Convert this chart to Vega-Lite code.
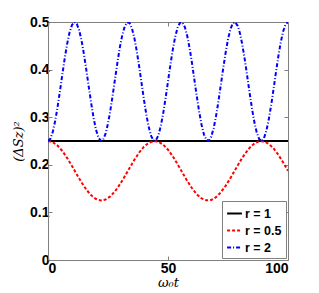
{
  "$schema": "https://vega.github.io/schema/vega-lite/v6.json",
  "width": 240,
  "height": 238,
  "autosize": {"type": "none"},
  "padding": {"left": 48, "top": 22, "right": 31, "bottom": 33},
  "background": "white",
  "config": {
    "view": {"stroke": "#808080", "strokeWidth": 1},
    "font": "Liberation Sans",
    "axis": {
      "grid": false,
      "domainColor": "#808080",
      "tickColor": "#808080",
      "tickSize": -4,
      "labelFont": "Liberation Sans",
      "labelFontWeight": "bold",
      "labelFontSize": 14,
      "labelColor": "black",
      "titleFont": "DejaVu Serif",
      "titleFontStyle": "italic",
      "titleFontWeight": "normal",
      "titleFontSize": 13,
      "titleColor": "black"
    }
  },
  "datasets": {
    "curves": [
      {"t": 0, "y": 0.25, "r": "r = 1"},
      {"t": 100, "y": 0.25, "r": "r = 1"},
      {"t": 0, "y": 0.25, "r": "r = 0.5"},
      {"t": 2, "y": 0.2475, "r": "r = 0.5"},
      {"t": 4, "y": 0.2403, "r": "r = 0.5"},
      {"t": 6, "y": 0.2289, "r": "r = 0.5"},
      {"t": 8, "y": 0.2141, "r": "r = 0.5"},
      {"t": 10, "y": 0.1973, "r": "r = 0.5"},
      {"t": 12, "y": 0.1797, "r": "r = 0.5"},
      {"t": 14, "y": 0.1627, "r": "r = 0.5"},
      {"t": 16, "y": 0.1477, "r": "r = 0.5"},
      {"t": 18, "y": 0.1358, "r": "r = 0.5"},
      {"t": 20, "y": 0.1281, "r": "r = 0.5"},
      {"t": 22, "y": 0.1250, "r": "r = 0.5"},
      {"t": 24, "y": 0.1270, "r": "r = 0.5"},
      {"t": 26, "y": 0.1337, "r": "r = 0.5"},
      {"t": 28, "y": 0.1448, "r": "r = 0.5"},
      {"t": 30, "y": 0.1592, "r": "r = 0.5"},
      {"t": 32, "y": 0.1759, "r": "r = 0.5"},
      {"t": 34, "y": 0.1934, "r": "r = 0.5"},
      {"t": 36, "y": 0.2105, "r": "r = 0.5"},
      {"t": 38, "y": 0.2259, "r": "r = 0.5"},
      {"t": 40, "y": 0.2381, "r": "r = 0.5"},
      {"t": 42, "y": 0.2463, "r": "r = 0.5"},
      {"t": 44, "y": 0.2499, "r": "r = 0.5"},
      {"t": 46, "y": 0.2485, "r": "r = 0.5"},
      {"t": 48, "y": 0.2423, "r": "r = 0.5"},
      {"t": 50, "y": 0.2317, "r": "r = 0.5"},
      {"t": 52, "y": 0.2176, "r": "r = 0.5"},
      {"t": 54, "y": 0.2011, "r": "r = 0.5"},
      {"t": 56, "y": 0.1836, "r": "r = 0.5"},
      {"t": 58, "y": 0.1663, "r": "r = 0.5"},
      {"t": 60, "y": 0.1507, "r": "r = 0.5"},
      {"t": 62, "y": 0.1381, "r": "r = 0.5"},
      {"t": 64, "y": 0.1294, "r": "r = 0.5"},
      {"t": 66, "y": 0.1253, "r": "r = 0.5"},
      {"t": 68, "y": 0.1261, "r": "r = 0.5"},
      {"t": 70, "y": 0.1319, "r": "r = 0.5"},
      {"t": 72, "y": 0.1420, "r": "r = 0.5"},
      {"t": 74, "y": 0.1558, "r": "r = 0.5"},
      {"t": 76, "y": 0.1720, "r": "r = 0.5"},
      {"t": 78, "y": 0.1896, "r": "r = 0.5"},
      {"t": 80, "y": 0.2069, "r": "r = 0.5"},
      {"t": 82, "y": 0.2227, "r": "r = 0.5"},
      {"t": 84, "y": 0.2357, "r": "r = 0.5"},
      {"t": 86, "y": 0.2449, "r": "r = 0.5"},
      {"t": 88, "y": 0.2495, "r": "r = 0.5"},
      {"t": 90, "y": 0.2492, "r": "r = 0.5"},
      {"t": 92, "y": 0.2440, "r": "r = 0.5"},
      {"t": 94, "y": 0.2343, "r": "r = 0.5"},
      {"t": 96, "y": 0.2209, "r": "r = 0.5"},
      {"t": 98, "y": 0.2049, "r": "r = 0.5"},
      {"t": 100, "y": 0.1874, "r": "r = 0.5"},
      {"t": 0, "y": 0.2500, "r": "r = 2"},
      {"t": 1, "y": 0.2550, "r": "r = 2"},
      {"t": 2, "y": 0.2695, "r": "r = 2"},
      {"t": 3, "y": 0.2923, "r": "r = 2"},
      {"t": 4, "y": 0.3218, "r": "r = 2"},
      {"t": 5, "y": 0.3554, "r": "r = 2"},
      {"t": 6, "y": 0.3907, "r": "r = 2"},
      {"t": 7, "y": 0.4247, "r": "r = 2"},
      {"t": 8, "y": 0.4547, "r": "r = 2"},
      {"t": 9, "y": 0.4784, "r": "r = 2"},
      {"t": 10, "y": 0.4939, "r": "r = 2"},
      {"t": 11, "y": 0.4999, "r": "r = 2"},
      {"t": 12, "y": 0.4961, "r": "r = 2"},
      {"t": 13, "y": 0.4826, "r": "r = 2"},
      {"t": 14, "y": 0.4605, "r": "r = 2"},
      {"t": 15, "y": 0.4317, "r": "r = 2"},
      {"t": 16, "y": 0.3983, "r": "r = 2"},
      {"t": 17, "y": 0.3632, "r": "r = 2"},
      {"t": 18, "y": 0.3290, "r": "r = 2"},
      {"t": 19, "y": 0.2983, "r": "r = 2"},
      {"t": 20, "y": 0.2738, "r": "r = 2"},
      {"t": 21, "y": 0.2574, "r": "r = 2"},
      {"t": 22, "y": 0.2502, "r": "r = 2"},
      {"t": 23, "y": 0.2530, "r": "r = 2"},
      {"t": 24, "y": 0.2655, "r": "r = 2"},
      {"t": 25, "y": 0.2867, "r": "r = 2"},
      {"t": 26, "y": 0.3149, "r": "r = 2"},
      {"t": 27, "y": 0.3478, "r": "r = 2"},
      {"t": 28, "y": 0.3829, "r": "r = 2"},
      {"t": 29, "y": 0.4174, "r": "r = 2"},
      {"t": 30, "y": 0.4486, "r": "r = 2"},
      {"t": 31, "y": 0.4738, "r": "r = 2"},
      {"t": 32, "y": 0.4913, "r": "r = 2"},
      {"t": 33, "y": 0.4995, "r": "r = 2"},
      {"t": 34, "y": 0.4978, "r": "r = 2"},
      {"t": 35, "y": 0.4863, "r": "r = 2"},
      {"t": 36, "y": 0.4660, "r": "r = 2"},
      {"t": 37, "y": 0.4385, "r": "r = 2"},
      {"t": 38, "y": 0.4060, "r": "r = 2"},
      {"t": 39, "y": 0.3709, "r": "r = 2"},
      {"t": 40, "y": 0.3362, "r": "r = 2"},
      {"t": 41, "y": 0.3046, "r": "r = 2"},
      {"t": 42, "y": 0.2786, "r": "r = 2"},
      {"t": 43, "y": 0.2602, "r": "r = 2"},
      {"t": 44, "y": 0.2510, "r": "r = 2"},
      {"t": 45, "y": 0.2516, "r": "r = 2"},
      {"t": 46, "y": 0.2620, "r": "r = 2"},
      {"t": 47, "y": 0.2814, "r": "r = 2"},
      {"t": 48, "y": 0.3082, "r": "r = 2"},
      {"t": 49, "y": 0.3403, "r": "r = 2"},
      {"t": 50, "y": 0.3752, "r": "r = 2"},
      {"t": 51, "y": 0.4101, "r": "r = 2"},
      {"t": 52, "y": 0.4421, "r": "r = 2"},
      {"t": 53, "y": 0.4689, "r": "r = 2"},
      {"t": 54, "y": 0.4882, "r": "r = 2"},
      {"t": 55, "y": 0.4985, "r": "r = 2"},
      {"t": 56, "y": 0.4990, "r": "r = 2"},
      {"t": 57, "y": 0.4896, "r": "r = 2"},
      {"t": 58, "y": 0.4712, "r": "r = 2"},
      {"t": 59, "y": 0.4451, "r": "r = 2"},
      {"t": 60, "y": 0.4135, "r": "r = 2"},
      {"t": 61, "y": 0.3787, "r": "r = 2"},
      {"t": 62, "y": 0.3437, "r": "r = 2"},
      {"t": 63, "y": 0.3112, "r": "r = 2"},
      {"t": 64, "y": 0.2837, "r": "r = 2"},
      {"t": 65, "y": 0.2635, "r": "r = 2"},
      {"t": 66, "y": 0.2522, "r": "r = 2"},
      {"t": 67, "y": 0.2506, "r": "r = 2"},
      {"t": 68, "y": 0.2589, "r": "r = 2"},
      {"t": 69, "y": 0.2764, "r": "r = 2"},
      {"t": 70, "y": 0.3017, "r": "r = 2"},
      {"t": 71, "y": 0.3329, "r": "r = 2"},
      {"t": 72, "y": 0.3674, "r": "r = 2"},
      {"t": 73, "y": 0.4025, "r": "r = 2"},
      {"t": 74, "y": 0.4354, "r": "r = 2"},
      {"t": 75, "y": 0.4636, "r": "r = 2"},
      {"t": 76, "y": 0.4847, "r": "r = 2"},
      {"t": 77, "y": 0.4971, "r": "r = 2"},
      {"t": 78, "y": 0.4997, "r": "r = 2"},
      {"t": 79, "y": 0.4925, "r": "r = 2"},
      {"t": 80, "y": 0.4760, "r": "r = 2"},
      {"t": 81, "y": 0.4514, "r": "r = 2"},
      {"t": 82, "y": 0.4208, "r": "r = 2"},
      {"t": 83, "y": 0.3865, "r": "r = 2"},
      {"t": 84, "y": 0.3513, "r": "r = 2"},
      {"t": 85, "y": 0.3180, "r": "r = 2"},
      {"t": 86, "y": 0.2892, "r": "r = 2"},
      {"t": 87, "y": 0.2673, "r": "r = 2"},
      {"t": 88, "y": 0.2539, "r": "r = 2"},
      {"t": 89, "y": 0.2501, "r": "r = 2"},
      {"t": 90, "y": 0.2562, "r": "r = 2"},
      {"t": 91, "y": 0.2718, "r": "r = 2"},
      {"t": 92, "y": 0.2956, "r": "r = 2"},
      {"t": 93, "y": 0.3256, "r": "r = 2"},
      {"t": 94, "y": 0.3597, "r": "r = 2"},
      {"t": 95, "y": 0.3949, "r": "r = 2"},
      {"t": 96, "y": 0.4286, "r": "r = 2"},
      {"t": 97, "y": 0.4579, "r": "r = 2"},
      {"t": 98, "y": 0.4807, "r": "r = 2"},
      {"t": 99, "y": 0.4951, "r": "r = 2"},
      {"t": 100, "y": 0.5000, "r": "r = 2"}
    ]
  },
  "data": {"name": "curves"},
  "resolve": {"axis": {"x": "independent", "y": "independent"}},
  "layer": [
    {
      "mark": {"type": "line", "strokeWidth": 2, "clip": true},
      "encoding": {
        "x": {
          "field": "t", "type": "quantitative",
          "scale": {"domain": [0, 100], "nice": false},
          "axis": {"values": [0, 50, 100], "title": "ω₀t", "labelPadding": 5, "titlePadding": 1}
        },
        "y": {
          "field": "y", "type": "quantitative",
          "scale": {"domain": [0, 0.5], "nice": false},
          "axis": {"values": [0, 0.1, 0.2, 0.3, 0.4, 0.5], "title": "(ΔSz)²", "labelPadding": 3, "titlePadding": 4,
            "labelExpr": "datum.value == 0 ? '0' : format(datum.value, '.1f')"}
        },
        "color": {
          "field": "r", "type": "nominal",
          "scale": {"domain": ["r = 1", "r = 0.5", "r = 2"], "range": ["#000000", "#ff0000", "#0000ff"]},
          "legend": {
            "title": null,
            "orient": "bottom-right",
            "offset": 2,
            "fillColor": "white",
            "strokeColor": "#808080",
            "padding": 4,
            "symbolType": "stroke",
            "symbolSize": 220,
            "symbolStrokeWidth": 2,
            "labelFont": "Liberation Sans",
            "labelFontWeight": "bold",
            "labelFontSize": 12.5,
            "labelColor": "black",
            "rowPadding": 2,
            "labelOffset": 2
          }
        },
        "strokeDash": {
          "field": "r", "type": "nominal",
          "scale": {"domain": ["r = 1", "r = 0.5", "r = 2"], "range": [[1, 0], [3, 2], [4, 2, 1, 2]]},
          "legend": null
        }
      }
    },
    {
      "mark": {"type": "rule", "opacity": 0},
      "encoding": {
        "x": {"field": "t", "type": "quantitative", "aggregate": "min", "scale": {"domain": [0, 100], "nice": false},
          "axis": {"orient": "top", "values": [0, 50, 100], "labels": false, "title": null}},
        "y": {"field": "y", "type": "quantitative", "aggregate": "min", "scale": {"domain": [0, 0.5], "nice": false},
          "axis": {"orient": "right", "values": [0, 0.1, 0.2, 0.3, 0.4, 0.5], "labels": false, "title": null}}
      }
    }
  ]
}
